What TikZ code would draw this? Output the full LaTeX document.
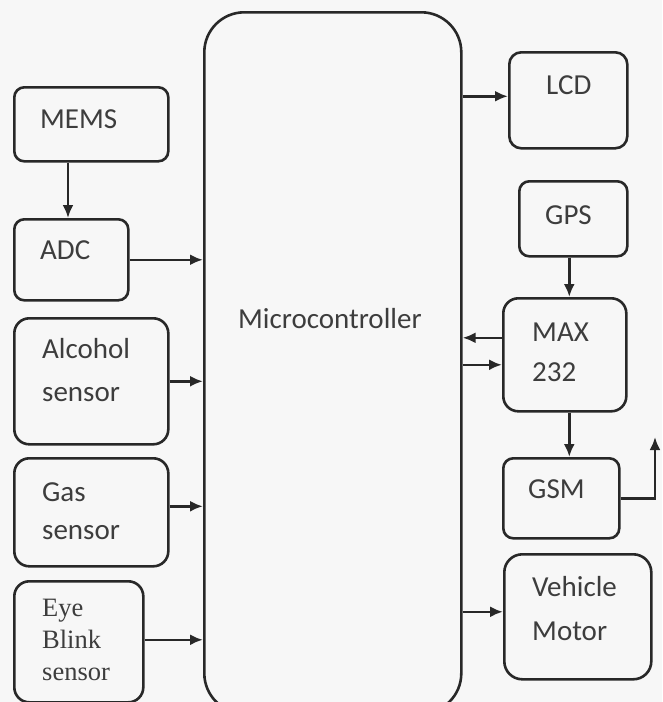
\documentclass[tikz,border=0pt]{standalone}
\usepackage{fontspec}
\setmainfont{Carlito}
\newfontfamily\blinkfont{Liberation Serif}
\usetikzlibrary{arrows.meta}
\definecolor{myink}{RGB}{40,40,40}
\definecolor{mypaper}{RGB}{247,247,247}
\tikzset{>={Latex[length=13pt,width=11pt]}}
\tikzset{blk/.style={draw=myink, line width=2.6pt, rounded corners=10pt, inner sep=0pt, anchor=north west},
  lbl/.style={anchor=base west, align=left, inner sep=0pt, text=myink!90, font=\fontsize{29}{41}\selectfont},
  wire/.style={->, draw=myink, line width=2.6pt}}

\begin{document}
\begin{tikzpicture}[x=1pt, y=-1pt]
\clip (0,0) rectangle (662,702);
\fill[mypaper] (0,0) rectangle (662,702);
% controller in the middle
\node[blk, rounded corners=40pt, minimum width=257pt, minimum height=701pt] (micro) at (203,11) {};
% inputs
\node[blk, minimum width=154pt, minimum height=74pt] (mems) at (13,86) {};
\node[blk, minimum width=114pt, minimum height=81pt] (adc) at (13,218) {};
\node[blk, rounded corners=15pt, minimum width=154pt, minimum height=126pt] (alcohol) at (13,317) {};
\node[blk, rounded corners=15pt, minimum width=154pt, minimum height=108pt] (gas) at (13,457) {};
\node[blk, rounded corners=15pt, minimum width=129pt, minimum height=121pt] (blink) at (13,580) {};
% outputs
\node[blk, rounded corners=12pt, minimum width=118pt, minimum height=96pt] (lcd) at (508,51) {};
\node[blk, minimum width=108pt, minimum height=75pt] (gps) at (518,180) {};
\node[blk, rounded corners=15pt, minimum width=123pt, minimum height=113pt] (max) at (502,297) {};
\node[blk, minimum width=116pt, minimum height=80pt] (gsm) at (502,457) {};
\node[blk, rounded corners=18pt, minimum width=147pt, minimum height=125pt] (motor) at (503,553) {};
% texts (base = last line)
\node[lbl] (micro-t) at (238,328) {Microcontroller};
\node[lbl] (mems-t) at (40,128) {MEMS};
\node[lbl] (adc-t) at (40,259) {ADC};
\node[lbl, font=\fontsize{29}{43}\selectfont] (alcohol-t) at (42,401) {Alcohol\\sensor};
\node[lbl, font=\fontsize{29}{38}\selectfont] (gas-t) at (42,539) {Gas\\sensor};
\node[lbl, font=\blinkfont\fontsize{26.5}{32}\selectfont] (blink-t) at (42,680) {Eye\\Blink\\sensor};
\node[lbl] (lcd-t) at (546,94) {LCD};
\node[lbl] (gps-t) at (545,224) {GPS};
\node[lbl, font=\fontsize{29}{40}\selectfont] (max-t) at (532,381) {MAX\\232};
\node[lbl] (gsm-t) at (528,498) {GSM};
\node[lbl, font=\fontsize{29}{44}\selectfont] (motor-t) at (532,640) {Vehicle\\Motor};
\coordinate (ant) at (655,437);
% connectors
\draw[wire] ([xshift=55pt]mems.south west) -- ([xshift=55pt]adc.north west);
\draw[wire] (adc.east) -- (adc.east -| micro.west);
\draw[wire] (alcohol.east) -- (alcohol.east -| micro.west);
\draw[wire] ([yshift=6pt]gas.east) -- ([yshift=6pt]gas.east -| micro.west);
\draw[wire] ([yshift=2pt]blink.east) -- ([yshift=2pt]blink.east -| micro.west);
\draw[wire] ([yshift=4pt]lcd.west -| micro.east) -- ([yshift=4pt]lcd.west);
\draw[wire] ([xshift=-4pt]gps.south) -- ([xshift=-4pt]gps.south |- max.north);
\draw[wire] ([yshift=17pt]max.west) -- ([yshift=17pt]max.west -| micro.east);
\draw[wire] ([yshift=-10pt]max.west -| micro.east) -- ([yshift=-10pt]max.west);
\draw[wire] ([xshift=-4pt]gps.south |- max.south) -- ([xshift=-4pt]gps.south |- gsm.north);
\draw[wire] (gsm.east) -| (ant);
\draw[wire] ([yshift=5pt]motor.west -| micro.east) -- ([yshift=5pt]motor.west);
\end{tikzpicture}
\end{document}
